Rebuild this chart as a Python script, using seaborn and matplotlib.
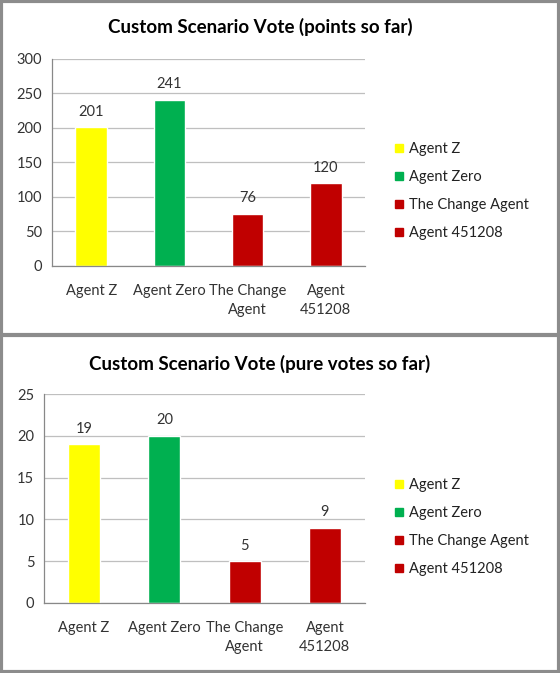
import matplotlib
matplotlib.use("Agg")
import matplotlib.pyplot as plt
from matplotlib.patches import Rectangle
from matplotlib.lines import Line2D
import seaborn as sns
import pandas as pd

# data
AGENTS = ["Agent Z", "Agent Zero", "The Change Agent", "Agent 451208"]
TICK_LABELS = ["Agent Z", "Agent Zero", "The Change\nAgent", "Agent\n451208"]
POINTS = [201, 241, 76, 120]
VOTES = [19, 20, 5, 9]
COLORS = ["#FFFF00", "#00B050", "#C00000", "#C00000"]

sns.set_style("white")
plt.rcParams["font.family"] = ["Lato", "DejaVu Sans"]

fig = plt.figure(figsize=(5.6, 6.73), dpi=100)
fig.patch.set_facecolor("white")


def draw_panel(ax, values, ymax, step, title, title_y, legend_y):
    df = pd.DataFrame({"agent": AGENTS, "value": values})
    sns.barplot(data=df, x="agent", y="value", hue="agent",
                palette=COLORS, width=0.4, saturation=1, ax=ax,
                legend=False)
    ax.set_xlim(-0.5, 3.5)
    ax.set_ylim(0, ymax)
    ax.set_yticks(range(0, ymax + 1, step))
    ax.yaxis.grid(True, color="#BFBFBF", linewidth=0.9)
    ax.set_axisbelow(True)
    ax.set_xticks(range(4))
    ax.set_xticklabels(TICK_LABELS, fontsize=10.5, color="#333333",
                       linespacing=1.45)
    ax.set_xticks([-0.5, 0.5, 1.5, 2.5, 3.5], minor=True)
    ax.tick_params(axis="x", which="major", length=0, pad=13)
    ax.tick_params(axis="x", which="minor", length=4, color="#888888",
                   direction="out")
    ax.tick_params(axis="y", length=4, color="#888888", direction="out",
                   labelsize=10.5, labelcolor="#333333", pad=3)
    ax.set_xlabel("")
    ax.set_ylabel("")
    for side in ["top", "right"]:
        ax.spines[side].set_visible(False)
    for side in ["left", "bottom"]:
        ax.spines[side].set_color("#888888")
        ax.spines[side].set_linewidth(0.9)
    for cont in ax.containers:
        ax.bar_label(cont, fmt="%d", padding=6, fontsize=10.5, color="#333333")

    fig.text(260 / 560, 1 - title_y / 673, title, ha="center", va="center",
             fontsize=13.5, fontweight="bold", color="black")

    handles = [Line2D([], [], marker="s", linestyle="", markersize=6,
                      markerfacecolor=c, markeredgecolor=c) for c in COLORS]
    fig.legend(handles, AGENTS, loc="upper left",
               bbox_to_anchor=(381 / 560, 1 - legend_y / 673),
               frameon=False, fontsize=10.5, handlelength=0.6,
               handletextpad=0.4, labelspacing=0.95, labelcolor="#222222")


ax1 = fig.add_axes([52 / 560, 1 - 266 / 673, 313 / 560, 207 / 673])
draw_panel(ax1, POINTS, 300, 50, "Custom Scenario Vote (points so far)",
           27, 129)

ax2 = fig.add_axes([44 / 560, 1 - 603 / 673, 321 / 560, 209 / 673])
draw_panel(ax2, VOTES, 25, 5, "Custom Scenario Vote (pure votes so far)",
           364, 465)

# panel frames
fig.add_artist(Rectangle((0.002, 0.002), 0.996, 0.996, transform=fig.transFigure,
                         fill=False, edgecolor="#8C8C8C", linewidth=3))
fig.add_artist(Line2D([0, 1], [1 - 335 / 673, 1 - 335 / 673],
                      transform=fig.transFigure, color="#8C8C8C", linewidth=3))

fig.savefig("out.png", dpi=100)
